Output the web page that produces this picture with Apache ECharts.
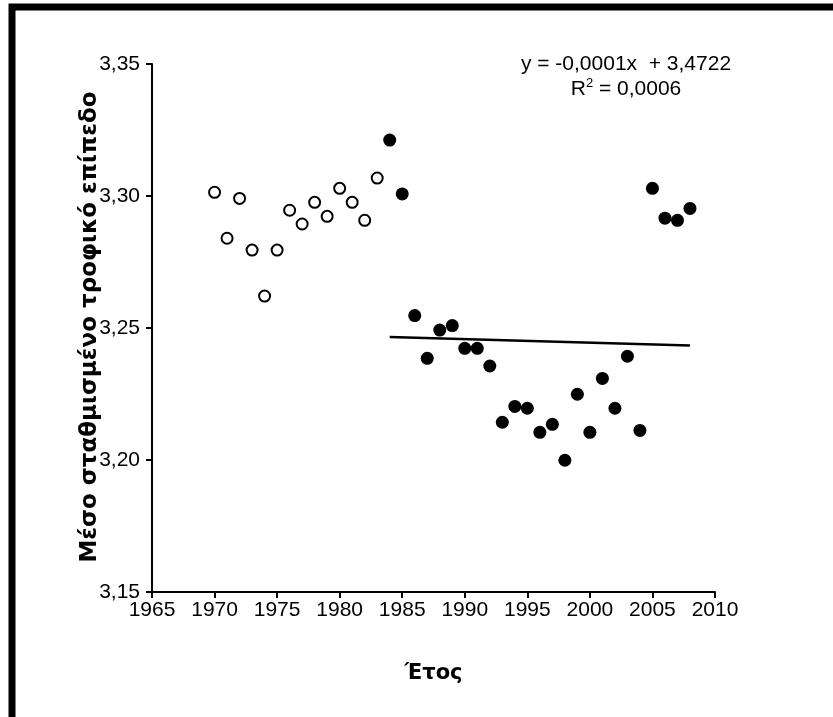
<!DOCTYPE html>
<html>
<head>
<meta charset="utf-8">
<script src="https://cdn.jsdelivr.net/npm/echarts@6/dist/echarts.min.js"></script>
<style>html,body{margin:0;padding:0;background:#fff;}#c{width:833px;height:717px;}</style>
</head>
<body>
<div id="c"></div>
<script>
// Open circles (earlier period)
var openYears = [1970, 1971, 1972, 1973, 1974, 1975, 1976, 1977, 1978, 1979, 1980, 1981, 1982, 1983];
var openValues = [3.3014, 3.2840, 3.2991, 3.2795, 3.2621, 3.2795, 3.2946, 3.2894, 3.2976, 3.2923, 3.3029, 3.2976, 3.2908, 3.3068];
// Filled circles (later period)
var filledYears = [1984, 1985, 1986, 1987, 1988, 1989, 1990, 1991, 1992, 1993, 1994, 1995, 1996, 1997, 1998, 1999, 2000, 2001, 2002, 2003, 2004, 2005, 2006, 2007, 2008];
var filledValues = [3.3212, 3.3008, 3.2547, 3.2385, 3.2492, 3.2509, 3.2423, 3.2423, 3.2356, 3.2143, 3.2203, 3.2196, 3.2105, 3.2135, 3.1999, 3.2249, 3.2105, 3.2309, 3.2196, 3.2393, 3.2112, 3.3029, 3.2916, 3.2908, 3.2953];
// Linear trend line endpoints
var trendYears = [1984, 2008];
var trendValues = [3.2466, 3.2434];
// Axes
var xMin = 1965, xMax = 2010, xStep = 5;
var yMin = 3.15, yMax = 3.35, yStep = 0.05;
var equationText = 'y = -0,0001x  + 3,4722';
var r2Text = ' = 0,0006';
var xTitle = 'Έτος';
var yTitle = 'Μέσο σταθμισμένο τροφικό επίπεδο';

function zip(a, b) { return a.map(function (v, i) { return [v, b[i]]; }); }

var chart = echarts.init(document.getElementById('c'), null, {renderer: 'canvas'});
var axisFont = {fontFamily: 'Liberation Sans, Arial, sans-serif', fontSize: 21, color: '#000'};
chart.setOption({
  animation: false,
  backgroundColor: '#fff',
  grid: {left: 152, right: 118, top: 64, bottom: 125, containLabel: false},
  xAxis: {
    type: 'value', min: xMin, max: xMax, interval: xStep,
    name: xTitle, nameLocation: 'middle', nameGap: 71,
    nameTextStyle: {fontFamily: 'DejaVu Sans, sans-serif', fontWeight: 'bold', fontSize: 21, color: '#000'},
    axisLine: {show: true, onZero: false, lineStyle: {color: '#000', width: 2}},
    axisTick: {show: true, inside: false, length: 6, lineStyle: {color: '#000', width: 2}},
    axisLabel: Object.assign({margin: 8, formatter: function (v) { return String(v); }}, axisFont),
    splitLine: {show: false}
  },
  yAxis: {
    type: 'value', min: yMin, max: yMax, interval: yStep,
    axisLine: {show: true, onZero: false, lineStyle: {color: '#000', width: 2}},
    axisTick: {show: true, inside: false, length: 6, lineStyle: {color: '#000', width: 2}},
    axisLabel: Object.assign({margin: 12, formatter: function (v) { return v.toFixed(2).replace('.', ','); }}, axisFont),
    splitLine: {show: false}
  },
  series: [
    {
      type: 'line', data: zip(trendYears, trendValues), symbol: 'none',
      lineStyle: {color: '#000', width: 2.5, opacity: 1}, z: 1
    },
    {
      type: 'scatter', data: zip(openYears, openValues), symbol: 'circle', symbolSize: 11,
      itemStyle: {color: '#fff', borderColor: '#000', borderWidth: 2, opacity: 1}, z: 3
    },
    {
      type: 'scatter', data: zip(filledYears, filledValues), symbol: 'circle', symbolSize: 13,
      itemStyle: {color: '#000', opacity: 1}, z: 3
    }
  ],
  graphic: [
    {
      type: 'rect', silent: true, z: 100,
      shape: {x: 12, y: 7, width: 900, height: 800},
      style: {fill: 'none', stroke: '#000', lineWidth: 7}
    },
    {
      type: 'text', silent: true, z: 50,
      x: 90, y: 327, rotation: Math.PI / 2,
      style: {
        text: yTitle, align: 'center', verticalAlign: 'middle',
        fontFamily: 'DejaVu Sans, sans-serif', fontWeight: 'bold', fontSize: 23, fill: '#000'
      }
    },
    {
      type: 'text', silent: true, z: 50,
      x: 626, y: 64,
      style: {
        text: equationText, align: 'center', verticalAlign: 'middle',
        fontFamily: 'Liberation Sans, Arial, sans-serif', fontSize: 21, fill: '#000'
      }
    },
    {
      type: 'text', silent: true, z: 50,
      x: 626, y: 89,
      style: {
        text: '{a|R}{s|2}{a|' + r2Text + '}', align: 'center', verticalAlign: 'middle',
        fontFamily: 'Liberation Sans, Arial, sans-serif', fontSize: 21, fill: '#000',
        rich: {
          a: {fontFamily: 'Liberation Sans, Arial, sans-serif', fontSize: 21, color: '#000'},
          s: {fontFamily: 'Liberation Sans, Arial, sans-serif', fontSize: 13, color: '#000', padding: [0, 0, 12, 0]}
        }
      }
    }
  ]
});
</script>
</body>
</html>
